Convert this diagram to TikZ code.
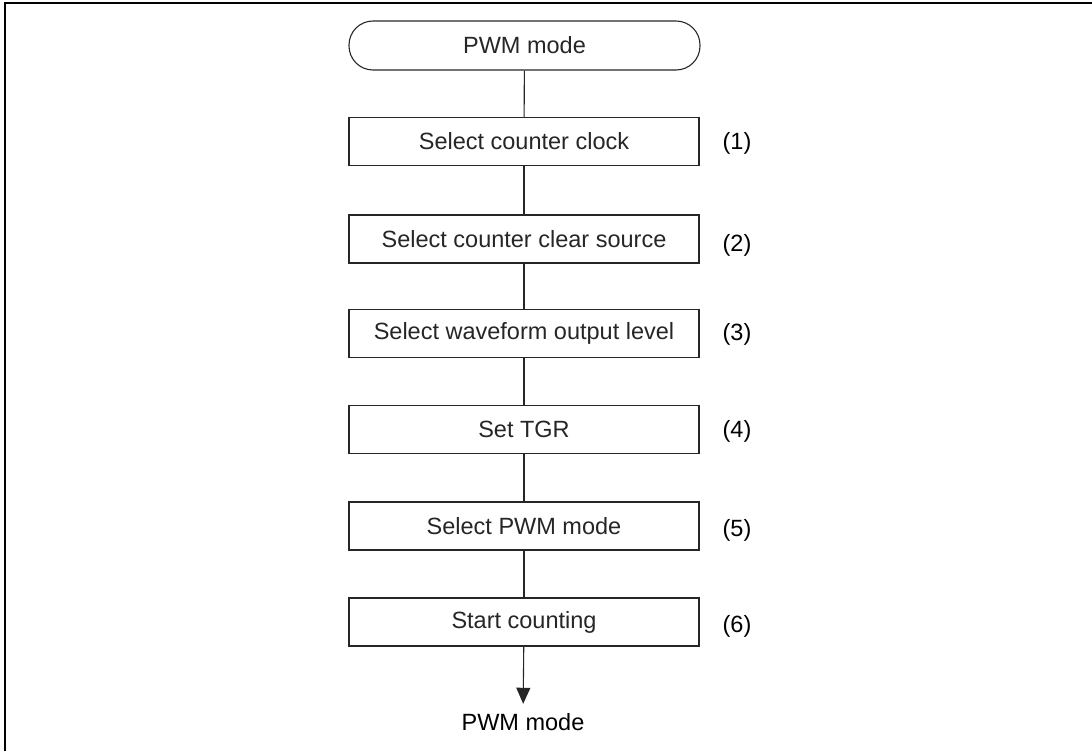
\documentclass[tikz,border=0pt]{standalone}
\usepackage{fontspec}
\setmainfont{Liberation Sans}
\usetikzlibrary{arrows.meta}
\begin{document}
\begin{tikzpicture}[x=1pt,y=-1pt,
  every node/.style={font=\fontsize{23.5}{28}\selectfont},
  stepbox/.style={draw, line width=1.1pt, minimum width=350pt, minimum height=48pt, inner sep=0pt, black!85},
  termbox/.style={draw, line width=1.1pt, minimum width=351pt, minimum height=49pt, rounded corners=24pt, inner sep=0pt, black!85},
  conn/.style={line width=1.1pt, black!85},
  lbl/.style={inner sep=0pt}
]
\useasboundingbox (0,0) rectangle (1092,751);
\draw[line width=1.6pt] (5,3) rectangle (1110,770);
\node[termbox] (t) at (524.5,45.5) {PWM mode};
\node[stepbox] (b1) at (524,141.5) {Select counter clock};
\node[stepbox] (b2) at (524,239) {Select counter clear source};
\node[stepbox] (b3) at (524,333.5) {Select waveform output level};
\node[stepbox] (b4) at (524,429.5) {Set TGR};
\node[stepbox] (b5) at (524,526) {Select PWM mode};
\node[stepbox] (b6) at (524,622) {Start counting};
\node[lbl, anchor=base] (e) at (523,730) {PWM mode};
\node[lbl] (l1) at (737,143) {(1)};
\node[lbl] (l2) at (737,245) {(2)};
\node[lbl] (l3) at (737,334) {(3)};
\node[lbl] (l4) at (737,431) {(4)};
\node[lbl] (l5) at (737,530) {(5)};
\node[lbl] (l6) at (737,626) {(6)};
\draw[conn] (t) -- (b1);
\draw[conn] (b1) -- (b2);
\draw[conn] (b2) -- (b3);
\draw[conn] (b3) -- (b4);
\draw[conn] (b4) -- (b5);
\draw[conn] (b5) -- (b6);
\draw[conn, -{Triangle[length=16pt,width=14pt]}, shorten >=9pt] (b6) -- (e);
\end{tikzpicture}
\end{document}
